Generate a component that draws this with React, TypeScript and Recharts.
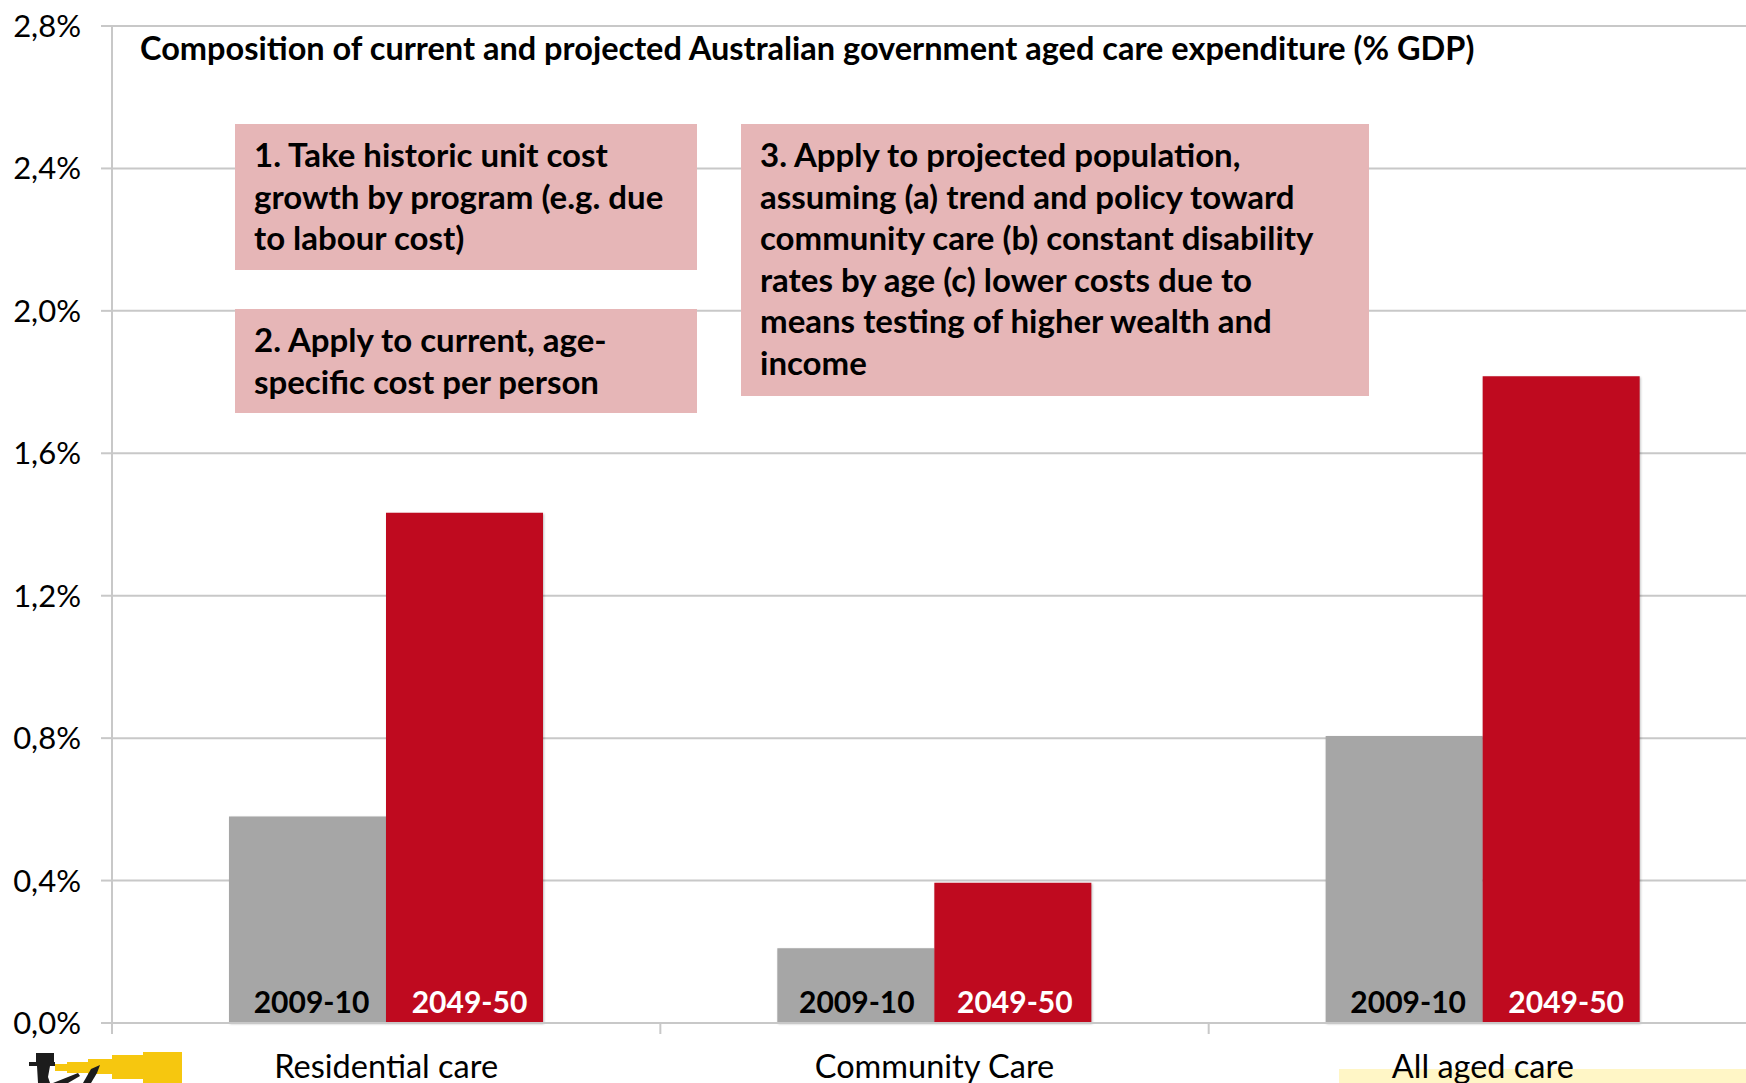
import React from 'react';
import { BarChart, Bar, XAxis, YAxis, CartesianGrid, LabelList } from 'recharts';

const categories = ['Residential care', 'Community Care', 'All aged care'];
const values2009 = [0.58, 0.21, 0.806];
const values2049 = [1.433, 0.394, 1.816];
const yTicks = [0, 0.4, 0.8, 1.2, 1.6, 2.0, 2.4, 2.8];
const labelShift = [0, -3, 0];
const boxes = [
  { left: 235, top: 124, width: 462, height: 146, lines: ['1. Take historic unit cost', 'growth by program (e.g. due', 'to labour cost)'] },
  { left: 235, top: 309, width: 462, height: 104, lines: ['2. Apply to current, age-', 'specific cost per person'] },
  {
    left: 741,
    top: 124,
    width: 628,
    height: 272,
    lines: [
      '3. Apply to projected population,',
      'assuming (a) trend and policy toward',
      'community care (b) constant disability',
      'rates by age (c) lower costs due to',
      'means testing of higher wealth and',
      'income',
    ],
  },
];

const data = categories.map((name, i) => ({
  name,
  y2009: values2009[i],
  y2049: values2049[i],
}));

const FONT = 'Lato, sans-serif';
const GRID = '#c8c8c8';
const BAND = 548.3;

const CategoryTick = (props: any) => {
  const { x, y, payload } = props;
  return (
    <g>
      <line x1={x - BAND / 2} x2={x - BAND / 2} y1={y - 8} y2={y + 3} stroke={GRID} strokeWidth={2} />
      <text x={x} y={y + 47} textAnchor="middle" fontFamily={FONT} fontSize={32.5} fill="#000">
        {payload.value}
      </text>
    </g>
  );
};

const YearLabel = (props: any) => {
  const { x, y, width, height, index, text, color, dx } = props;
  return (
    <text
      x={x + width / 2 + dx + labelShift[index]}
      y={y + height - 10}
      textAnchor="middle"
      fontFamily={FONT}
      fontWeight={700}
      fontSize={30}
      style={{ fill: color }}
    >
      {text}
    </text>
  );
};

// small telescope logo in the bottom left corner
const Logo = () => (
  <svg width={200} height={40} style={{ position: 'absolute', left: 0, top: 1043 }}>
    <g fill="#f6c70f">
      <rect x={55} y={21} width={12} height={7} />
      <rect x={67} y={19} width={21} height={11} />
      <rect x={88} y={16} width={24} height={15} />
      <rect x={112} y={12} width={31} height={24} />
      <rect x={143} y={9} width={39} height={31} />
    </g>
    <g fill="#1c1c1c">
      <rect x={36} y={10} width={18} height={9} />
      <rect x={29} y={19} width={26} height={4} />
      <polygon points="37,23 50,23 48,34 50,40 38,40" />
      <polygon points="53,40 78,30 80,33 68,40" />
      <polygon points="83,40 91,26 100,22 97,30 91,40" />
    </g>
  </svg>
);

export default function App() {
  return (
    <div style={{ position: 'fixed', left: 0, top: 0, width: 1746, height: 1083, overflow: 'hidden', background: '#fff' }}>
      <div style={{ position: 'absolute', left: 1339, top: 1069, width: 407, height: 14, background: '#fff6c6' }} />
      <Logo />
      <div style={{ position: 'absolute', left: 0, top: 0 }}>
        <BarChart
          width={1760}
          height={1083}
          data={data}
          margin={{ top: 26, right: 3, bottom: 0, left: 0 }}
          barCategoryGap={117}
          barGap={0}
        >
          <CartesianGrid horizontal vertical={false} stroke={GRID} strokeWidth={2} />
          <XAxis
            dataKey="name"
            height={60}
            axisLine={{ stroke: GRID, strokeWidth: 2 }}
            tickLine={false}
            tick={<CategoryTick />}
            interval={0}
          />
          <YAxis
            width={112}
            domain={[0, 2.8]}
            ticks={yTicks}
            interval={0}
            tickFormatter={(v: number) => `${v.toFixed(1).replace('.', ',')}%`}
            axisLine={{ stroke: GRID, strokeWidth: 2 }}
            tickLine={{ stroke: GRID, strokeWidth: 2 }}
            tickSize={11}
            tick={{ fontFamily: FONT, fontSize: 31, fill: '#000' }}
            tickMargin={20}
          />
          <Bar dataKey="y2009" fill="#a6a6a6" isAnimationActive={false} style={{ filter: 'drop-shadow(1px 1px 1px rgba(0,0,0,0.25))' }}>
            <LabelList content={<YearLabel text="2009-10" color="#000" dx={4} />} />
          </Bar>
          <Bar dataKey="y2049" fill="#bf0a1f" isAnimationActive={false} style={{ filter: 'drop-shadow(1px 1px 1px rgba(0,0,0,0.25))' }}>
            <LabelList content={<YearLabel text="2049-50" color="#fff" dx={5} />} />
          </Bar>
        </BarChart>
      </div>
      <div style={{ position: 'absolute', left: 140, top: 28, fontFamily: FONT, fontWeight: 700, fontSize: 32.5, lineHeight: '40px', whiteSpace: 'nowrap', color: '#000' }}>
        Composition of current and projected Australian government aged care expenditure (% GDP)
      </div>
      {boxes.map((box) => (
        <div
          key={box.left + '-' + box.top}
          style={{
            position: 'absolute',
            left: box.left,
            top: box.top,
            width: box.width,
            height: box.height,
            background: '#e6b6b7',
            fontFamily: FONT,
            fontWeight: 700,
            fontSize: 33,
            lineHeight: '41.5px',
            paddingLeft: 19,
            paddingTop: 10,
            boxSizing: 'border-box',
            whiteSpace: 'nowrap',
            color: '#000',
          }}
        >
          {box.lines.map((line) => (
            <div key={line}>{line}</div>
          ))}
        </div>
      ))}
    </div>
  );
}
